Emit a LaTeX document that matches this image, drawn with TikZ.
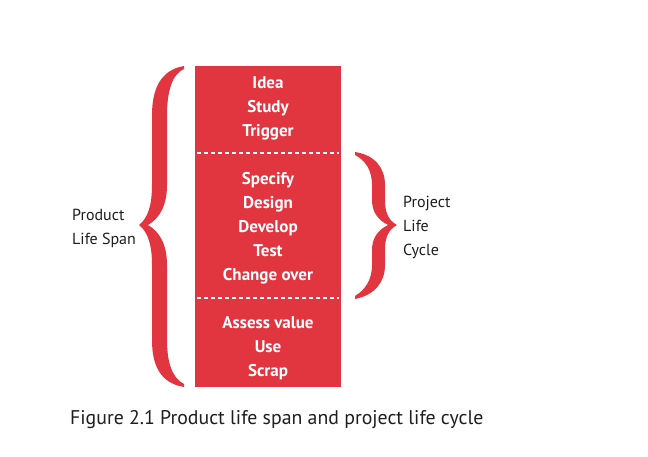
\documentclass[tikz,border=0pt]{standalone}
\usepackage{fontspec}
\setmainfont{PT Sans}
\definecolor{boxred}{HTML}{E1363F}
\definecolor{ink}{HTML}{1E1E1E}
\begin{document}
\begin{tikzpicture}[x=1pt,y=-1pt,
  item/.style={text=white,font=\fontsize{17}{20}\selectfont\bfseries,anchor=base,inner sep=0pt},
  lbl/.style={text=ink,font=\fontsize{16}{19}\selectfont,anchor=base west,inner sep=0pt},
  sep/.style={white,line width=1.6pt,dash pattern=on 4pt off 3pt},
  bracefill/.style={fill=boxred,draw=none}]
\useasboundingbox (0,0) rectangle (648,456);
\fill[white] (0,0) rectangle (648,456);
% box
\node[fill=boxred,minimum width=146pt,minimum height=321pt,inner sep=0pt,anchor=north west] (box) at (195,66) {};
\coordinate (s1a) at (197,153); \coordinate (s1b) at (339,153);
\coordinate (s2a) at (197,298); \coordinate (s2b) at (339,298);
\draw[sep] (s1a) -- (s1b);
\draw[sep] (s2a) -- (s2b);
% items
\node[item] (i1) at (268,88.5) {Idea};
\node[item] (i2) at (268,112.5) {Study};
\node[item] (i3) at (268,136.5) {Trigger};
\node[item] (i4) at (268,184.5) {Specify};
\node[item] (i5) at (268,208.5) {Design};
\node[item] (i6) at (268,232.5) {Develop};
\node[item] (i7) at (268,256.5) {Test};
\node[item] (i8) at (268,280.5) {Change over};
\node[item] (i9) at (268,328.5) {Assess value};
\node[item] (i10) at (268,352.5) {Use};
\node[item] (i11) at (268,376.5) {Scrap};
% left brace
\fill[bracefill] (184,66) .. controls (160,70) and (152,90) .. (152,115) -- (152,185)
  .. controls (152,205) and (148,218) .. (139,225)
  .. controls (148,232) and (152,245) .. (152,265) -- (152,340)
  .. controls (152,365) and (160,383) .. (184,387)
  -- (184,384) .. controls (172,378) and (167,362) .. (167,340) -- (167,265)
  .. controls (167,245) and (160,232) .. (148,225)
  .. controls (160,218) and (167,205) .. (167,185) -- (167,115)
  .. controls (167,92) and (172,74) .. (184,69) -- cycle;
% right brace
\fill[bracefill] (355,152) .. controls (375,155) and (385,168) .. (385,185) -- (385,200)
  .. controls (385,212) and (388,220) .. (397,225)
  .. controls (388,230) and (385,238) .. (385,250) -- (385,265)
  .. controls (385,282) and (375,295) .. (355,299)
  -- (355,296) .. controls (365,290) and (372,280) .. (372,265) -- (372,250)
  .. controls (372,238) and (378,230) .. (388,225)
  .. controls (378,220) and (372,212) .. (372,200) -- (372,185)
  .. controls (372,170) and (365,160) .. (355,155) -- cycle;
% labels
\node[lbl] (pl1) at (72,220) {Product};
\node[lbl] (pl2) at (72,244) {Life Span};
\node[lbl] (pc1) at (403,207) {Project};
\node[lbl] (pc2) at (403,231) {Life};
\node[lbl] (pc3) at (403,255) {Cycle};
\node[text=ink,font=\fontsize{19.8}{23}\selectfont,anchor=base west,inner sep=0pt] (cap) at (70,424) {Figure 2.1 Product life span and project life cycle};
\end{tikzpicture}
\end{document}
